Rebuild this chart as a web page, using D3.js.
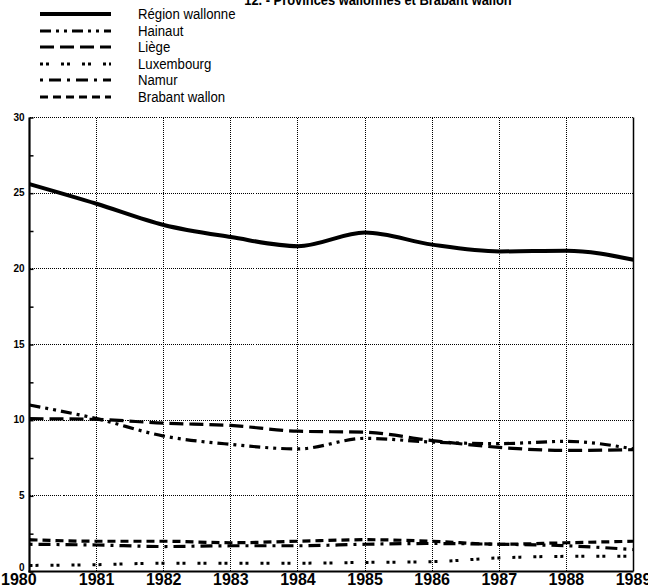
<!DOCTYPE html>
<html>
<head>
<meta charset="utf-8">
<script src="https://cdn.jsdelivr.net/npm/d3@7"></script>
<style>
  body { margin: 0; background: #fff; }
  svg { display: block; }
</style>
</head>
<body>
<svg id="chart" width="648" height="588"></svg>
<script>
// years on the x axis
const years = [1980, 1981, 1982, 1983, 1984, 1985, 1986, 1987, 1988, 1989];
const yTicks = [0, 5, 10, 15, 20, 25, 30];

// series values
const regionWallonne = [25.6, 24.3, 22.9, 22.1, 21.5, 22.4, 21.6, 21.15, 21.2, 20.6];
const hainaut = [11.0, 10.1, 8.95, 8.4, 8.1, 8.8, 8.55, 8.45, 8.6, 8.1];
const liege = [10.1, 10.05, 9.8, 9.65, 9.27, 9.2, 8.65, 8.2, 8.0, 8.05];
const luxembourg = [0.4, 0.45, 0.55, 0.55, 0.55, 0.6, 0.65, 0.9, 1.0, 1.0];
const namur = [1.8, 1.75, 1.65, 1.7, 1.7, 1.8, 1.85, 1.8, 1.7, 1.45];
const brabantWallon = [2.1, 2.0, 2.0, 1.9, 2.0, 2.1, 2.0, 1.8, 1.9, 2.0];

const seriesNames = ['Région wallonne', 'Hainaut', 'Liège', 'Luxembourg', 'Namur', 'Brabant wallon'];
const seriesValues = [regionWallonne, hainaut, liege, luxembourg, namur, brabantWallon];
const seriesDash = [null, '11,5,3,5,3,5', '14,6', '3,3,3,12', '3,6,12,6', '8,5'];
const seriesWidth = [4, 3.2, 3.2, 3, 3.2, 3.2];

const svg = d3.select('#chart');
const font = 'Arial, "Liberation Sans", sans-serif';

const x = d3.scaleLinear().domain([1980, 1989]).range([29.5, 633.5]);
const y = d3.scaleLinear().domain([0, 30]).range([571.5, 117.5]);
const px = v => Math.round(v - 0.5) + 0.5;

// title (cut at the top of the page)
svg.append('text')
  .attr('x', 378).attr('y', 5)
  .attr('text-anchor', 'middle')
  .attr('transform', 'translate(378,0) scale(0.92,1) translate(-378,0)')
  .style('font-family', font)
  .style('font-weight', 'bold')
  .style('font-size', '14px')
  .text('12. - Provinces wallonnes et Brabant wallon');

// grid
const grid = svg.append('g').attr('stroke', '#000').attr('stroke-width', 1)
  .attr('stroke-dasharray', '1,1').attr('shape-rendering', 'crispEdges');
grid.selectAll('.vg').data(years.slice(1, -1)).enter().append('line')
  .attr('x1', d => px(x(d))).attr('x2', d => px(x(d)))
  .attr('y1', y(30)).attr('y2', y(0));
grid.selectAll('.hg').data(yTicks.slice(1)).enter().append('line')
  .attr('x1', x(1980)).attr('x2', x(1989))
  .attr('y1', d => px(y(d))).attr('y2', d => px(y(d)));

// right border
svg.append('line')
  .attr('x1', x(1989)).attr('x2', x(1989))
  .attr('y1', y(30)).attr('y2', y(0))
  .attr('stroke', '#000').attr('stroke-width', 1.5);

// axes
const yAxis = d3.axisRight(y).tickValues(d3.range(0, 30.1, 2.5)).tickSize(4).tickFormat('');
svg.append('g').attr('transform', `translate(${x(1980)},0)`).call(yAxis)
  .call(g => g.select('.domain').remove())
  .selectAll('line').attr('stroke-width', 1.5);
svg.append('line')
  .attr('x1', x(1980)).attr('x2', x(1980))
  .attr('y1', y(30)).attr('y2', y(0) + 1)
  .attr('stroke', '#000').attr('stroke-width', 2.2);
svg.append('line')
  .attr('x1', x(1980) - 1).attr('x2', x(1989))
  .attr('y1', y(0)).attr('y2', y(0))
  .attr('stroke', '#000').attr('stroke-width', 2.2);

svg.selectAll('.ylab').data(yTicks).enter().append('text')
  .attr('x', x(1980) - 5).attr('y', d => y(d) + (d === 0 ? -1 : 3))
  .attr('text-anchor', 'end')
  .style('font-family', font)
  .style('font-weight', 'bold')
  .style('font-size', '10px')
  .text(d => d);

svg.selectAll('.xlab').data(years).enter().append('text')
  .attr('x', (d, i) => i === 0 ? 1 : x(d)).attr('y', 585)
  .attr('text-anchor', (d, i) => i === 0 ? 'start' : 'middle')
  .style('font-family', font)
  .style('font-weight', 'bold')
  .style('font-size', '16px')
  .text(d => d);

// lines
const line = d3.line()
  .x((d, i) => x(years[i]))
  .y(d => y(d))
  .curve(d3.curveMonotoneX);

svg.selectAll('.series').data(seriesValues).enter().append('path')
  .attr('d', d => line(d))
  .attr('fill', 'none')
  .attr('stroke', '#000')
  .attr('stroke-width', (d, i) => seriesWidth[i])
  .attr('stroke-dasharray', (d, i) => seriesDash[i]);

// legend
const legendY = [14, 31, 47, 64, 80, 97];
const legend = svg.selectAll('.leg').data(seriesNames).enter().append('g')
  .attr('transform', (d, i) => `translate(0,${legendY[i]})`);
legend.append('line')
  .attr('x1', 40).attr('x2', 111)
  .attr('stroke', '#000')
  .attr('stroke-width', (d, i) => seriesWidth[i])
  .attr('stroke-dasharray', (d, i) => seriesDash[i]);
legend.append('text')
  .attr('transform', 'translate(138,5) scale(0.88,1)')
  .style('font-family', font)
  .style('font-size', '15px')
  .text(d => d);
</script>
</body>
</html>
